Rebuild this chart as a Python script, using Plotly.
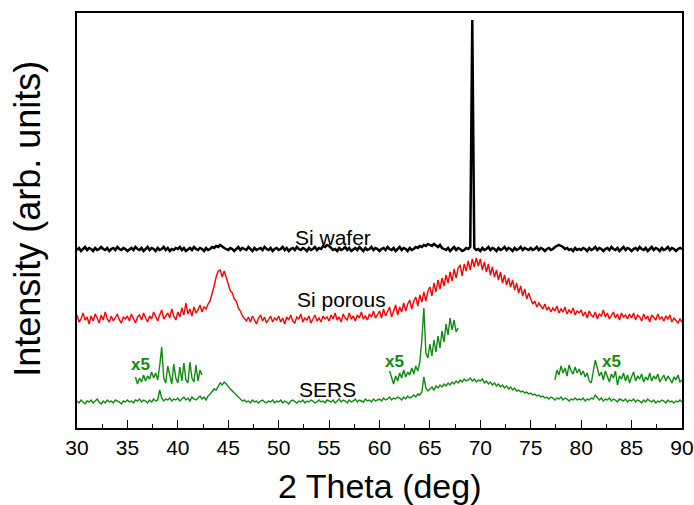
import numpy as np
import plotly.graph_objects as go

two_theta_start = 30.0
step = 0.2

# Si wafer intensity (arb. units, vertical offset included)
si_wafer = [
    178,180,177,179,181,178,180,179,177,180,178,179,181,179,178,180,177,179,180,178,181,179,178,180,179,
    177,179,180,178,181,179,178,180,177,179,181,178,180,179,177,180,178,179,181,178,180,177,179,178,180,
    179,181,178,180,177,179,180,178,181,179,178,180,179,177,180,178,179,181,180,182,181,183,181,180,179,
    178,180,179,177,179,181,178,180,179,178,181,179,177,180,178,179,180,178,181,179,178,180,177,179,180,
    178,179,181,178,180,177,179,180,178,181,179,178,180,179,177,180,178,179,181,178,180,179,182,181,183,
    182,180,178,179,177,180,178,179,181,178,180,177,179,180,178,181,179,177,180,178,179,181,178,180,179,
    177,179,180,178,181,179,178,180,177,179,181,178,180,179,177,180,178,179,181,180,182,181,183,182,184,
    183,182,184,182,181,183,180,179,178,180,177,179,181,178,180,179,177,178,180,179,181,408,180,178,179,
    177,180,178,179,181,178,180,179,177,180,178,179,181,178,180,179,177,180,178,179,181,178,180,179,178,
    180,178,179,181,178,180,179,177,179,180,178,179,181,182,183,182,181,179,180,178,179,177,180,178,179,
    178,180,179,177,180,178,179,181,178,180,179,177,179,180,178,181,179,178,180,177,179,181,178,180,179,
    177,179,180,178,181,179,178,180,177,179,181,178,180,179,177,180,178,179,181,178,180,179,177,179,180,
    179,
]

# Si porous intensity
si_porous = [
    113,106,109,115,108,111,104,112,107,114,110,105,113,108,116,109,106,112,107,111,114,108,105,111,109,
    112,107,114,109,105,111,113,108,115,110,106,112,109,116,111,107,113,118,109,112,115,110,119,112,108,
    116,111,120,113,125,114,119,112,121,115,118,123,116,121,119,124,127,134,142,151,157,158,151,157,149,
    144,137,135,129,127,120,117,112,110,107,111,106,112,108,104,110,113,107,111,105,109,112,106,110,108,
    112,106,110,104,111,108,113,107,105,111,109,114,106,110,108,112,105,109,113,107,110,106,112,109,111,
    107,113,109,115,108,111,106,114,110,108,115,109,112,107,113,110,116,109,112,108,114,111,117,110,113,
    117,110,119,112,116,121,111,118,123,113,121,116,125,117,124,128,119,127,131,122,133,126,136,127,137,
    141,132,145,136,148,139,150,142,153,145,156,147,159,150,160,163,152,164,157,167,158,169,161,170,162,
    169,158,166,156,164,153,161,151,158,148,156,145,153,143,150,141,148,138,145,135,142,132,139,129,135,
    129,124,127,121,125,122,119,124,118,121,116,120,117,122,115,119,116,121,114,118,115,120,113,117,115,
    118,112,116,110,117,113,111,116,109,114,112,118,111,115,109,113,116,110,114,108,115,111,113,109,114,
    110,115,108,113,111,107,114,109,112,106,113,110,108,114,109,111,107,112,109,113,106,110,108,105,109,
    106,
]

# SERS intensity
sers = [
    27,25,28,26,24,27,26,28,25,27,29,26,24,27,25,28,26,27,25,28,27,26,24,27,26,
    28,26,27,25,28,27,29,26,28,27,25,28,26,29,27,28,38,30,27,29,28,30,27,29,28,
    30,27,29,31,28,30,27,31,29,28,30,32,29,31,28,32,34,37,39,38,42,45,43,46,44,
    41,39,37,35,33,31,29,27,28,26,27,25,28,26,27,25,27,28,26,25,27,26,28,25,27,
    26,28,25,27,26,24,27,28,26,25,27,26,28,25,27,26,28,27,25,26,28,26,27,25,28,
    27,26,28,25,27,29,26,28,27,25,28,26,27,29,26,28,27,26,29,27,28,26,29,27,28,
    29,27,30,28,29,31,28,30,29,31,30,28,31,29,32,30,31,33,31,34,33,36,51,40,37,
    39,41,38,42,40,43,41,44,42,45,43,46,44,47,45,48,46,49,47,48,50,47,49,46,48,
    47,49,45,47,44,46,43,45,42,44,41,43,40,42,39,41,38,40,37,38,36,37,35,36,34,
    35,33,34,32,33,31,32,30,31,29,31,30,28,30,29,31,28,30,29,27,29,28,30,28,29,
    28,30,27,29,28,30,29,33,31,28,30,27,29,28,30,27,29,28,26,29,28,27,29,26,28,
    27,29,26,28,27,25,28,26,29,27,26,28,25,27,26,28,27,25,28,26,27,25,27,26,28,
    26,
]

# SERS x5 magnified segments: start angle (deg) and values
x5_a_start = 35.8
x5_a = [51,44,50,46,53,47,52,49,56,50,55,48,62,81,50,45,62,52,44,64,50,45,61,47,65,48,45,66,50,46,63,47,58,53]
x5_b_start = 61.0
x5_b = [57,49,44,52,47,55,50,58,51,56,53,60,54,62,57,66,88,120,75,70,84,72,88,76,92,80,97,86,104,93,110,98,108,96,100]
x5_c_start = 77.4
x5_c = [48,58,53,62,55,60,52,63,57,54,61,55,59,53,57,51,55,47,45,55,68,60,52,56,48,57,51,46,54,50,57,43,
        52,49,55,47,53,45,51,56,47,52,49,54,46,51,48,55,47,52,49,54,46,50,53,47,52,49,45,51,48,53,46,48]

x_ticks = [30, 35, 40, 45, 50, 55, 60, 65, 70, 75, 80, 85, 90]


def grid(start, vals):
    return start + step * np.arange(len(vals))


GREEN = "#108a10"
fig = go.Figure()
fig.add_trace(go.Scatter(x=grid(two_theta_start, si_wafer), y=si_wafer, mode="lines",
                         line=dict(color="black", width=2.5), showlegend=False))
fig.add_trace(go.Scatter(x=grid(two_theta_start, si_porous), y=si_porous, mode="lines",
                         line=dict(color="#ff0000", width=1.4), showlegend=False))
fig.add_trace(go.Scatter(x=grid(two_theta_start, sers), y=sers, mode="lines",
                         line=dict(color=GREEN, width=1.4), showlegend=False))
for s, v in [(x5_a_start, x5_a), (x5_b_start, x5_b), (x5_c_start, x5_c)]:
    fig.add_trace(go.Scatter(x=grid(s, v), y=v, mode="lines",
                             line=dict(color=GREEN, width=1.4), showlegend=False))

FONT = "Liberation Sans, Arial, sans-serif"
ann = []
for txt, x, y in [("Si wafer", 55.4, 191), ("Si porous", 56.2, 129), ("SERS", 54.8, 39)]:
    ann.append(dict(x=x, y=y, xref="x", yref="y", text=txt, showarrow=False,
                    xanchor="center", yanchor="middle",
                    font=dict(family=FONT, size=21, color="black")))
for x, y in [(36.3, 64), (61.5, 67), (83.0, 67)]:
    ann.append(dict(x=x, y=y, xref="x", yref="y", text="<b>x5</b>", showarrow=False,
                    xanchor="center", yanchor="middle",
                    font=dict(family=FONT, size=17, color=GREEN)))
ann.append(dict(x=0.5, y=-0.1398, xref="paper", yref="paper", text="2 Theta (deg)",
                xanchor="center", yanchor="middle", borderpad=0,
                showarrow=False, font=dict(family=FONT, size=34, color="black")))
ann.append(dict(x=-0.081, y=0.504, xref="paper", yref="paper", text="Intensity (arb. units)",
                xanchor="center", yanchor="middle", borderpad=0,
                textangle=-90, showarrow=False, font=dict(family=FONT, size=36, color="black")))

fig.update_layout(
    width=694, height=505,
    margin=dict(l=77, r=12, t=13, b=77, autoexpand=False),
    paper_bgcolor="white", plot_bgcolor="white",
    annotations=ann,
    xaxis=dict(range=[30, 90], tickvals=x_ticks, ticktext=[str(t) for t in x_ticks],
               ticks="inside", ticklen=8, tickwidth=1.3, tickcolor="black",
               minor=dict(dtick=2.5, tick0=30, ticks="inside", ticklen=4, tickwidth=1.3, tickcolor="black"),
               showline=True, linecolor="black", linewidth=1.6, mirror=True,
               showgrid=False, zeroline=False, automargin=False,
               tickfont=dict(family=FONT, size=21, color="black")),
    yaxis=dict(range=[0, 415], showticklabels=False, ticks="", showline=True,
               linecolor="black", linewidth=1.6, mirror=True, showgrid=False, zeroline=False,
               automargin=False),
)
fig.write_html("out.html", config={"displayModeBar": False},
               post_script="document.body.style.margin='0';document.body.style.overflow='hidden';")
